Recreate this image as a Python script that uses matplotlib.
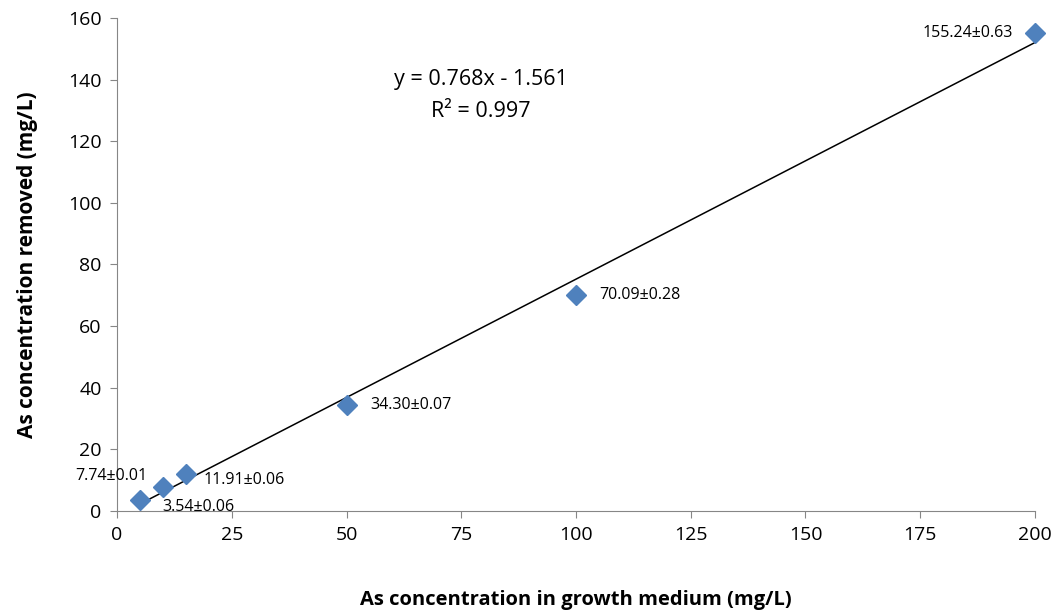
import numpy as np
import matplotlib.pyplot as plt

plt.rcParams['font.family'] = ['Open Sans', 'DejaVu Sans']

conc = [5, 10, 15, 50, 100, 200]
removed = [3.54, 7.74, 11.91, 34.30, 70.09, 155.24]
labels = ["3.54±0.06", "7.74±0.01", "11.91±0.06", "34.30±0.07", "70.09±0.28", "155.24±0.63"]
# label offsets in points, and horizontal alignment
offsets = [(16, -5), (-11, 8), (13, -4), (17, 0), (17, 0), (-16, 0)]
aligns = ["left", "right", "left", "left", "left", "right"]

slope, intercept = 0.768, -1.561

fig = plt.figure(figsize=(10.6, 6.16), dpi=100)
ax = fig.add_axes([0.1104, 0.1705, 0.866, 0.8003])

xs = np.array([min(conc), max(conc)])
ax.plot(xs, slope * xs + intercept, color="black", lw=1.1, zorder=2)
ax.plot(conc, removed, linestyle="none", marker="D", markersize=10,
        color="#4F81BD", zorder=3, clip_on=False)

for x, y, t, off, ha in zip(conc, removed, labels, offsets, aligns):
    ax.annotate(t, (x, y), xytext=off, textcoords="offset points",
                ha=ha, va="center", fontsize=11.5)

ax.text(79.3, 140, "y = 0.768x - 1.561", ha="center", va="center", fontsize=15.5)
ax.text(79.3, 129.5, "R² = 0.997", ha="center", va="center", fontsize=15.5)

ax.set_xlim(0, 200)
ax.set_ylim(0, 160)
ax.set_xticks(np.arange(0, 201, 25))
ax.set_yticks(np.arange(0, 161, 20))
ax.tick_params(labelsize=14, length=5, color="#868686", direction="out", pad=6)
for s in ["top", "right"]:
    ax.spines[s].set_visible(False)
for s in ["left", "bottom"]:
    ax.spines[s].set_color("#868686")

ax.set_xlabel("As concentration in growth medium (mg/L)", fontsize=14.5,
              fontweight="bold", labelpad=33)
ax.set_ylabel("As concentration removed (mg/L)", fontsize=15,
              fontweight="bold", labelpad=22)

plt.savefig("out.png", dpi=100)
